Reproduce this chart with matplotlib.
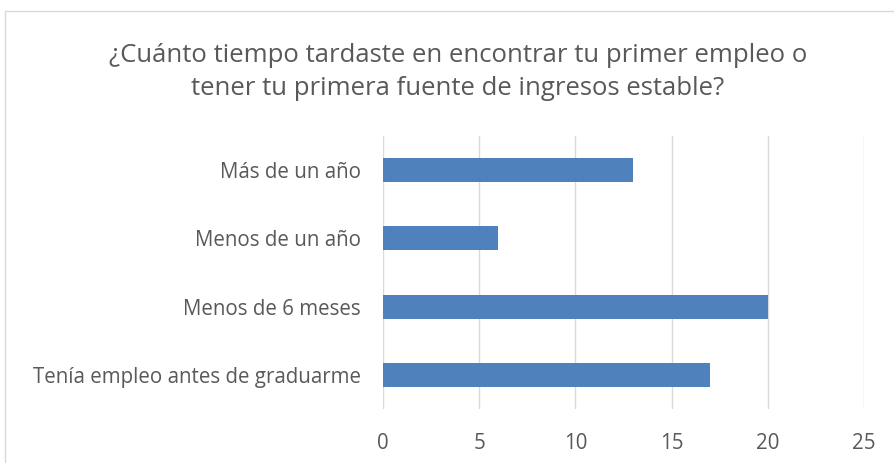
import matplotlib.pyplot as plt
from matplotlib.patches import Rectangle

categories = ["Tenía empleo antes de graduarme", "Menos de 6 meses", "Menos de un año", "Más de un año"]
values = [17, 20, 6, 13]
xticks = [0, 5, 10, 15, 20, 25]
title = "¿Cuánto tiempo tardaste en encontrar tu primer empleo o\ntener tu primera fuente de ingresos estable?"

plt.rcParams['font.family'] = ['Open Sans', 'DejaVu Sans']
text_color = '#595959'

fig = plt.figure(figsize=(8.95, 4.63), dpi=100)
fig.patches.append(Rectangle((5/895, -0.1), 1.2, 1 - 11/463 + 0.1, transform=fig.transFigure,
                             fill=False, edgecolor='#D9D9D9', linewidth=1))
ax = fig.add_axes([383/895, 54/463, 481/895, 273/463])
ax.barh(range(len(categories)), values, height=0.35, color='#4F81BD', zorder=3)
ax.set_xlim(0, 25)
ax.set_ylim(-0.5, len(categories) - 0.5)
ax.set_xticks(xticks)
ax.set_xticklabels([str(t) for t in xticks])
ax.set_yticks(range(len(categories)))
ax.set_yticklabels(categories)
ax.grid(axis='x', color='#D9D9D9', linewidth=1, zorder=0)
for s in ax.spines.values():
    s.set_visible(False)
ax.tick_params(axis='both', length=0, colors=text_color, labelsize=14.8)
ax.tick_params(axis='x', pad=17)
ax.tick_params(axis='y', pad=16)
fig.text(458/895, 1 - 72/463, title, ha='center', va='center', fontsize=18.5,
         color=text_color, linespacing=1.42)
fig.savefig('out.png', dpi=100)
